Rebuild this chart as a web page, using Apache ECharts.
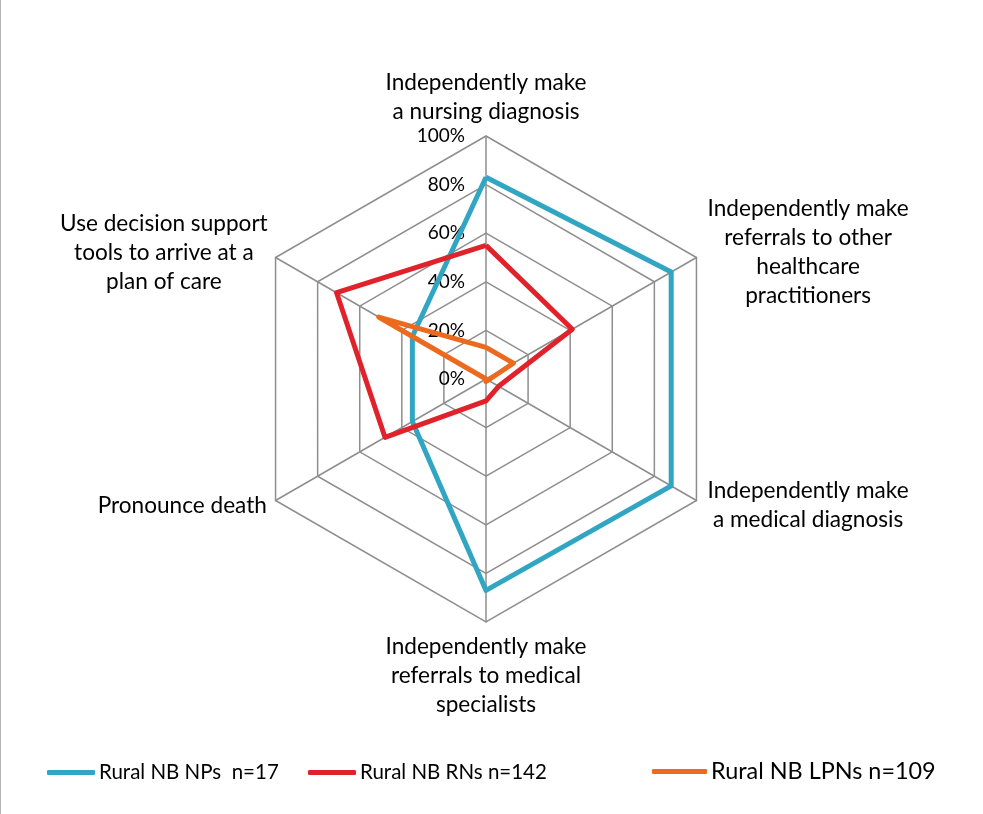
<!DOCTYPE html>
<html>
<head>
<meta charset="utf-8">
<script src="https://cdn.jsdelivr.net/npm/echarts@6/dist/echarts.min.js"></script>
<style>
  html, body { margin: 0; padding: 0; background: #fff; }
  #chart { position: absolute; left: 0; top: 0; width: 983px; height: 814px; }
  #edge { position: absolute; left: 0; top: 0; width: 1px; height: 814px; background: #b4b4b4; z-index: 5; }
</style>
</head>
<body>
<div id="chart"></div>
<div id="edge"></div>
<script>
// categories, clockwise from the top as in the original
const categories = [
    'Independently make\na nursing diagnosis',
    'Independently make\nreferrals to other\nhealthcare\npractitioners',
    'Independently make\na medical diagnosis',
    'Independently make\nreferrals to medical\nspecialists',
    'Pronounce death',
    'Use decision support\ntools to arrive at a\nplan of care'
];
const seriesNames = ['Rural NB NPs  n=17', 'Rural NB RNs n=142', 'Rural NB LPNs n=109'];
const npValues = [83, 88, 88, 87, 35, 35];
const rnValues = [55, 41, 6, 9, 48, 71];
const lpnValues = [13, 13, 1, 1, 0, 51];
const colors = ['#31a6c3', '#e0222b', '#ec6a1e'];

// echarts goes counter-clockwise, so flip the order after the first one
const order = [0, 5, 4, 3, 2, 1];
const pick = arr => order.map(i => arr[i]);

const FONT = 'Lato';

let indicators = pick(categories).map((name, i) => {
    let ind = { name: name, min: 0, max: 100 };
    if (i === 0) {
        // tick labels only on the top spoke
        ind.axisLabel = {
            show: true,
            formatter: '{value}%',
            showMinLabel: true,
            showMaxLabel: true,
            color: '#000',
            fontFamily: FONT,
            fontSize: 19,
            margin: 21
        };
    }
    return ind;
});

let allValues = [npValues, rnValues, lpnValues];
// the last legend entry is drawn a bit bigger in the original
let legendFont = [20.5, 20.5, 23.4];
let legends = [47, 308, 652].map((left, i) => ({
    data: [seriesNames[i]],
    left: left,
    top: i === 2 ? 760 : 762,
    padding: 0,
    icon: 'roundRect',
    itemWidth: i === 2 ? 55 : 48,
    itemHeight: 5,
    itemGap: 0,
    textStyle: { color: '#000', fontFamily: FONT, fontSize: legendFont[i], padding: [0, 0, 0, -1] }
}));

const chart = echarts.init(document.getElementById('chart'), null, { renderer: 'canvas' });
chart.setOption({
    animation: false,
    backgroundColor: '#fff',
    legend: legends,
    radar: {
        center: [486, 379],
        radius: 243,
        shape: 'polygon',
        splitNumber: 5,
        indicator: indicators,
        axisNameGap: 10,
        axisName: {
            color: '#000',
            fontFamily: FONT,
            fontSize: 22.6,
            formatter: function (name) {
                if (name.indexOf('\n') < 0) return name;
                return name.split('\n').map(s => '{c|' + s + '}').join('\n');
            },
            rich: {
                c: { width: 206, align: 'center', fontFamily: FONT, fontSize: 22.6, lineHeight: 29, color: '#000' }
            }
        },
        axisLine: { lineStyle: { color: '#8e8e8e', width: 1.5 } },
        splitLine: { lineStyle: { color: '#8e8e8e', width: 1.5 } },
        splitArea: { show: false },
        axisTick: { show: false }
    },
    series: allValues.map((vals, i) => ({
        type: 'radar',
        symbol: 'none',
        data: [{
            name: seriesNames[i],
            value: pick(vals),
            lineStyle: { color: colors[i], width: 5 },
            itemStyle: { color: colors[i] }
        }]
    }))
});
</script>
</body>
</html>
